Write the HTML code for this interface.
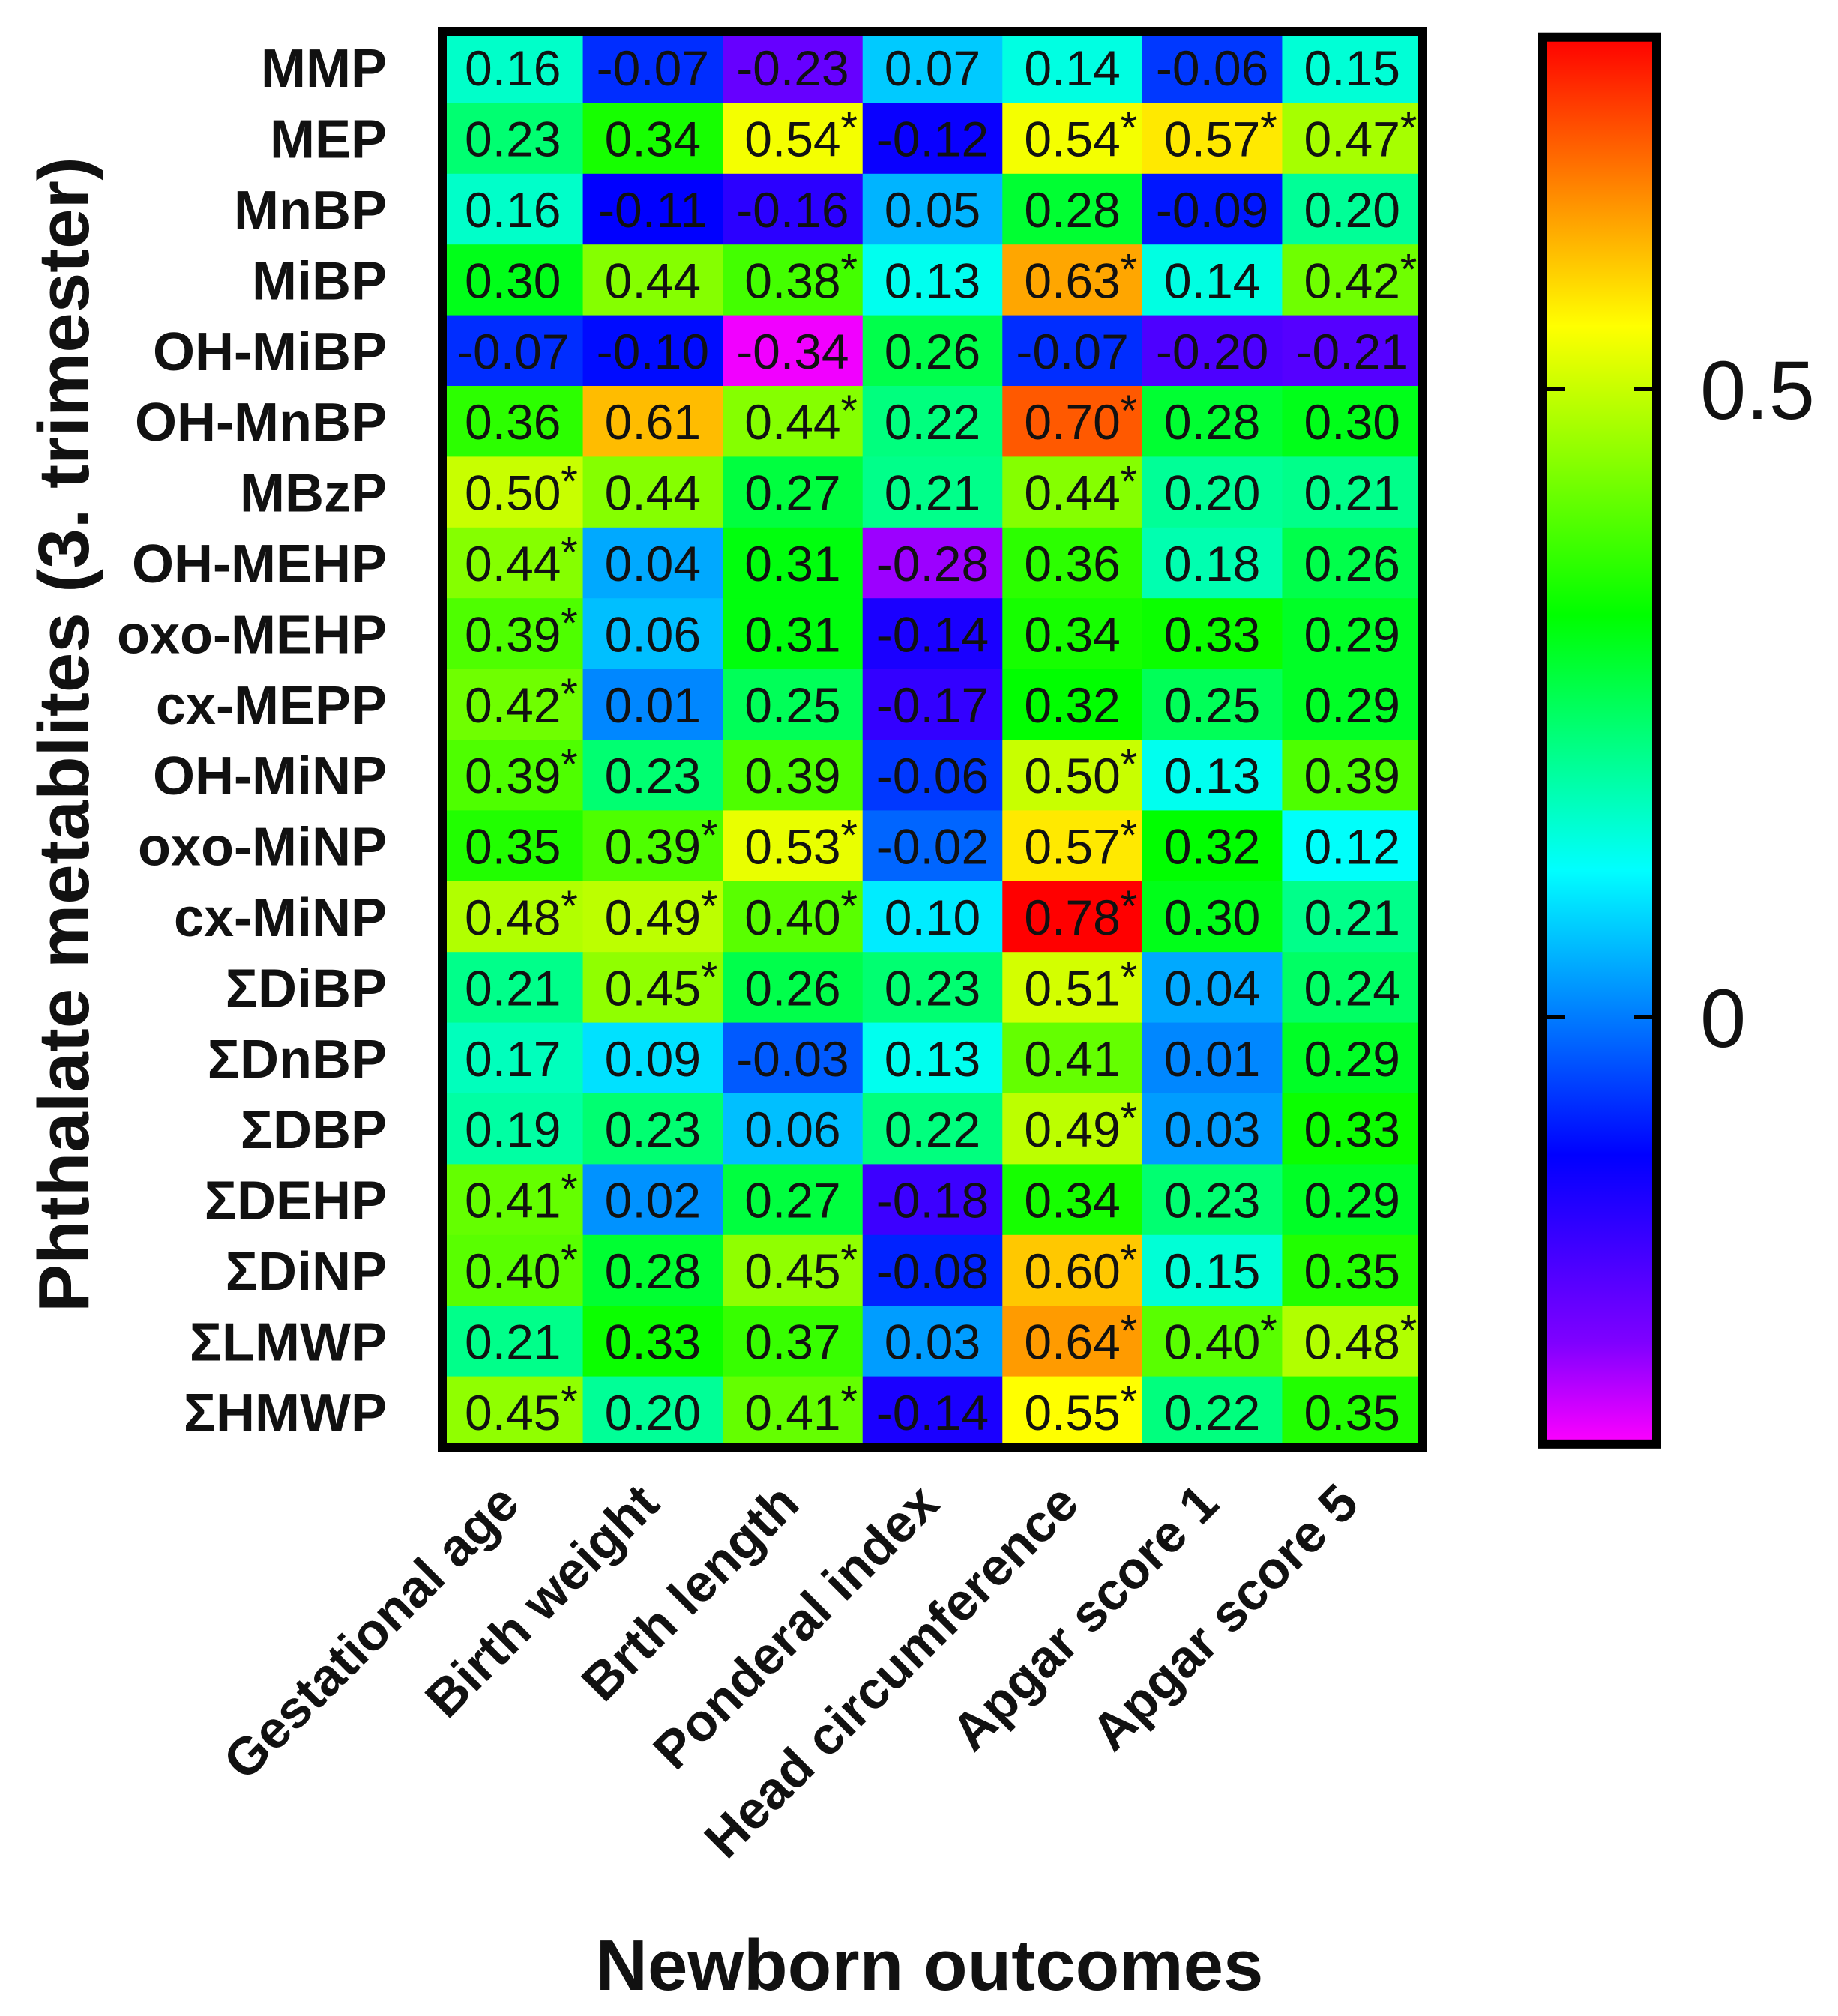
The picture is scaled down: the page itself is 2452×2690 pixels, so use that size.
<!DOCTYPE html>
<html><head><meta charset="utf-8"><style>
html,body{margin:0;padding:0;background:#fff;}
svg{display:block;font-family:"Liberation Sans",Arial,sans-serif;}
</style></head><body>
<svg id="chart" width="2452" height="2690" viewBox="0 0 2452 2690" xmlns="http://www.w3.org/2000/svg">
<defs>
<linearGradient id="cbgrad" x1="0" y1="1" x2="0" y2="0"></linearGradient>
</defs>
<g id="cells"></g>
<g id="rowlabels"></g>
<g id="collabels"></g>
<g id="cbar"></g>
<text x="1240" y="2655" text-anchor="middle" font-weight="bold" font-size="96" fill="#111">Newborn outcomes</text>
<text transform="translate(118,980) rotate(-90)" text-anchor="middle" font-weight="bold" font-size="96" fill="#111">Phthalate metablites (3. trimester)</text>
</svg>
<script>
const rows = ["MMP","MEP","MnBP","MiBP","OH-MiBP","OH-MnBP","MBzP","OH-MEHP","oxo-MEHP","cx-MEPP","OH-MiNP","oxo-MiNP","cx-MiNP","ΣDiBP","ΣDnBP","ΣDBP","ΣDEHP","ΣDiNP","ΣLMWP","ΣHMWP"];
const cols = ["Gestational age","Birth weight","Brth length","Ponderal index","Head circumference","Apgar score 1","Apgar score 5"];
const values = [
[0.16,-0.07,-0.23,0.07,0.14,-0.06,0.15],
[0.23,0.34,0.54,-0.12,0.54,0.57,0.47],
[0.16,-0.11,-0.16,0.05,0.28,-0.09,0.20],
[0.30,0.44,0.38,0.13,0.63,0.14,0.42],
[-0.07,-0.10,-0.34,0.26,-0.07,-0.20,-0.21],
[0.36,0.61,0.44,0.22,0.70,0.28,0.30],
[0.50,0.44,0.27,0.21,0.44,0.20,0.21],
[0.44,0.04,0.31,-0.28,0.36,0.18,0.26],
[0.39,0.06,0.31,-0.14,0.34,0.33,0.29],
[0.42,0.01,0.25,-0.17,0.32,0.25,0.29],
[0.39,0.23,0.39,-0.06,0.50,0.13,0.39],
[0.35,0.39,0.53,-0.02,0.57,0.32,0.12],
[0.48,0.49,0.40,0.10,0.78,0.30,0.21],
[0.21,0.45,0.26,0.23,0.51,0.04,0.24],
[0.17,0.09,-0.03,0.13,0.41,0.01,0.29],
[0.19,0.23,0.06,0.22,0.49,0.03,0.33],
[0.41,0.02,0.27,-0.18,0.34,0.23,0.29],
[0.40,0.28,0.45,-0.08,0.60,0.15,0.35],
[0.21,0.33,0.37,0.03,0.64,0.40,0.48],
[0.45,0.20,0.41,-0.14,0.55,0.22,0.35]];
const significant = [
[0,0,0,0,0,0,0],[0,0,1,0,1,1,1],[0,0,0,0,0,0,0],[0,0,1,0,1,0,1],[0,0,0,0,0,0,0],
[0,0,1,0,1,0,0],[1,0,0,0,1,0,0],[1,0,0,0,0,0,0],[1,0,0,0,0,0,0],[1,0,0,0,0,0,0],
[1,0,0,0,1,0,0],[0,1,1,0,1,0,0],[1,1,1,0,1,0,0],[0,1,0,0,1,0,0],[0,0,0,0,0,0,0],
[0,0,0,0,1,0,0],[1,0,0,0,0,0,0],[1,0,1,0,1,0,0],[0,0,0,0,1,1,1],[1,0,1,0,1,0,0]];
const colorbarTicks = [0, 0.5];
const colorbarTickLabels = ["0", "0.5"];
const colorDomain = [-0.34, 0.78];
const colorStops = [[-0.35,"#ff00ff"],[-0.26,"#8000ff"],[-0.11,"#0000ff"],[0.117,"#00ffff"],[0.32,"#00ff00"],[0.55,"#ffff00"],[0.78,"#ff0000"]];

const NS = "http://www.w3.org/2000/svg";
const X0 = 591, X1 = 1897, Y0 = 43, Y1 = 1931;
const cw = (X1 - X0) / cols.length, rh = (Y1 - Y0) / rows.length;
const xPos = i => X0 + i * cw;
const yPos = j => Y0 + j * rh;
const CB_X0 = 2058, CB_X1 = 2210;
const cbY = v => 1357 - v * 1676;

function hex(h){return [parseInt(h.slice(1,3),16),parseInt(h.slice(3,5),16),parseInt(h.slice(5,7),16)];}
function colorOf(v){
  if (v <= colorStops[0][0]) return colorStops[0][1];
  for (let k = 1; k < colorStops.length; k++) {
    if (v <= colorStops[k][0]) {
      const a = colorStops[k-1], b = colorStops[k];
      const t = (v - a[0]) / (b[0] - a[0]);
      const ca = hex(a[1]), cb = hex(b[1]);
      return "rgb(" + ca.map((c,i)=>Math.round(c + (cb[i]-c)*t)).join(",") + ")";
    }
  }
  return colorStops[colorStops.length-1][1];
}
function mk(tag, attrs, parent){
  const e = document.createElementNS(NS, tag);
  for (const k in attrs) e.setAttribute(k, attrs[k]);
  parent.appendChild(e);
  return e;
}
const gCells = document.getElementById("cells");
rows.forEach((r, j) => {
  cols.forEach((c, i) => {
    const v = values[j][i];
    const rect = mk("rect", {x: xPos(i), y: yPos(j), width: cw + 0.6, height: rh + 0.6, fill: colorOf(v)}, gCells);
    
    
    const t = mk("text", {x: xPos(i) + cw/2, y: yPos(j) + rh/2 + 24, "text-anchor": "middle", "font-size": "66", fill: "#111"}, gCells);
    t.textContent = v.toFixed(2);
    
    
    if (significant[j][i]) {
      const s = mk("text", {x: xPos(i) + cw/2 + 64, y: yPos(j) + rh/2 + 6, "font-size": "58", fill: "#111"}, gCells);
      s.textContent = "*";
      
      
    }
  });
});
const frame = mk("rect", {x: X0 - 1, y: Y0 - 1, width: X1 - X0 + 2, height: Y1 - Y0 + 2, fill: "none", stroke: "#000", "stroke-width": "12"}, gCells);



const gRow = document.getElementById("rowlabels");
rows.forEach((r, j) => {
  const t = mk("text", {x: 516, y: yPos(j) + rh/2 + 26, "text-anchor": "end", "font-size": "72", "font-weight": "bold", fill: "#111"}, gRow);
  t.textContent = r;
  
  
});
const gCol = document.getElementById("collabels");
cols.forEach((c, i) => {
  const x = xPos(i) + cw/2 + 12, y = 2010;
  const t = mk("text", {transform: "translate(" + x + "," + y + ") rotate(-45)", "text-anchor": "end", "font-size": "70", "font-weight": "bold", fill: "#111"}, gCol);
  t.textContent = c;
  
  
});

const grad = document.getElementById("cbgrad");
const cbTop = cbY(colorDomain[1]), cbBot = cbY(colorDomain[0]);
grad.setAttribute("gradientUnits", "userSpaceOnUse");
grad.setAttribute("x1", 0); grad.setAttribute("x2", 0);
grad.setAttribute("y1", cbBot); grad.setAttribute("y2", cbTop);
colorStops.forEach(s => {
  const off = Math.min(1, Math.max(0, (s[0] - colorDomain[0]) / (colorDomain[1] - colorDomain[0])));
  mk("stop", {offset: off, "stop-color": s[1]}, grad);
});
const gCb = document.getElementById("cbar");
const cbRect = mk("rect", {x: CB_X0, y: cbTop, width: CB_X1 - CB_X0, height: cbBot - cbTop, fill: "url(#cbgrad)", stroke: "#000", "stroke-width": "12"}, gCb);


colorbarTicks.forEach((v, k) => {
  const y = cbY(v);
  const l1 = mk("line", {x1: CB_X0, x2: CB_X0 + 30, y1: y, y2: y, stroke: "#000", "stroke-width": "6"}, gCb);
  
  
  const l2 = mk("line", {x1: CB_X1 - 30, x2: CB_X1, y1: y, y2: y, stroke: "#000", "stroke-width": "6"}, gCb);
  
  
  const t = mk("text", {x: 2268, y: y + 40, "font-size": "110", fill: "#111"}, gCb);
  t.textContent = colorbarTickLabels[k];
  
  
});
</script>
</body></html>
